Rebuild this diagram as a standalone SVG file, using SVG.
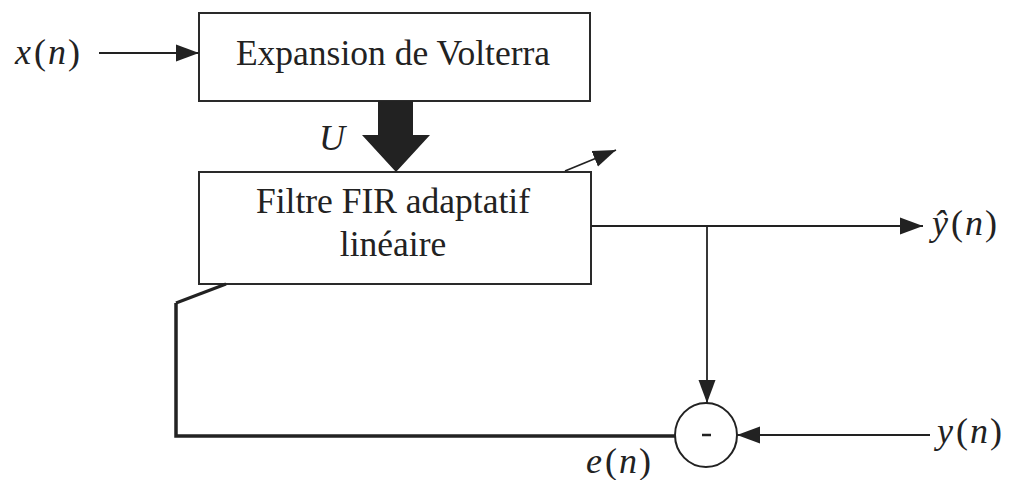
<svg xmlns="http://www.w3.org/2000/svg" width="1011" height="480" viewBox="0 0 1011 480">
  <style>
    .box { fill: #ffffff; stroke: #2a2a2a; stroke-width: 2; }
    .lbl { font-family: "Liberation Serif", "Times New Roman", serif; font-size: 35.5px; fill: #222; text-anchor: middle; }
    .math { font-family: "Liberation Serif", "Times New Roman", serif; font-size: 36px; fill: #222; }
    .it { font-style: italic; }
    .wire { fill: none; stroke: #222; stroke-width: 1.8; }
    .fb { fill: none; stroke: #222; stroke-width: 3.5; }
    .head { fill: #222; }
  </style>
  <defs>
    <marker id="arr" markerUnits="userSpaceOnUse" markerWidth="24" markerHeight="20" refX="23" refY="10" orient="auto">
      <path d="M0,1.5 L23,10 L0,18.5 Z" class="head"/>
    </marker>
  </defs>

  <rect width="1011" height="480" fill="#ffffff"/>

  <!-- input label -->
  <g id="label-x">
    <text class="math" x="15" y="64"><tspan class="it">x</tspan><tspan dx="3">(</tspan><tspan class="it" dx="2">n</tspan><tspan dx="2">)</tspan></text>
  </g>

  <!-- Volterra expansion block -->
  <g id="volterra">
    <rect class="box" x="199" y="13" width="391" height="88"/>
    <text class="lbl" x="393" y="65">Expansion de Volterra</text>
  </g>

  <!-- adaptive linear FIR filter block -->
  <g id="fir">
    <rect class="box" x="199" y="172" width="392" height="112"/>
    <text class="lbl" x="393" y="213">Filtre FIR adaptatif</text>
    <text class="lbl" x="393" y="256">linéaire</text>
  </g>

  <!-- subtraction node -->
  <g id="sum">
    <ellipse cx="706" cy="435" rx="31" ry="32" fill="#ffffff" stroke="#222" stroke-width="2"/>
    <line x1="702" y1="435" x2="711" y2="435" stroke="#222" stroke-width="2.5"/>
  </g>

  <!-- signal labels -->
  <g id="label-U">
    <text class="math it" x="319" y="150" font-size="38">U</text>
  </g>
  <g id="label-yhat">
    <text class="math" x="932" y="235"><tspan class="it">ŷ</tspan><tspan dx="3">(</tspan><tspan class="it" dx="2">n</tspan><tspan dx="2">)</tspan></text>
  </g>
  <g id="label-y">
    <text class="math" x="937" y="443"><tspan class="it">y</tspan><tspan dx="3">(</tspan><tspan class="it" dx="2">n</tspan><tspan dx="2">)</tspan></text>
  </g>
  <g id="label-e">
    <text class="math" x="586" y="473"><tspan class="it">e</tspan><tspan dx="3">(</tspan><tspan class="it" dx="2">n</tspan><tspan dx="2">)</tspan></text>
  </g>

  <!-- connectors -->
  <g id="connectors">
    <!-- x(n) into the expansion -->
    <line class="wire" x1="99" y1="53" x2="199" y2="53" marker-end="url(#arr)"/>
    <!-- vector U: wide block arrow -->
    <polygon class="head" points="378,101 413,101 413,135 430,135 396,172 362,135 378,135"/>
    <!-- adaptation indicator across the filter -->
    <line class="wire" x1="565" y1="171" x2="616" y2="150" stroke-width="2.6" marker-end="url(#arr)"/>
    <!-- filter output -->
    <line class="wire" x1="591" y1="226" x2="923" y2="226" marker-end="url(#arr)"/>
    <!-- branch down to the subtractor -->
    <line class="wire" x1="707" y1="226" x2="707" y2="403" marker-end="url(#arr)"/>
    <!-- desired signal into the subtractor -->
    <line class="wire" x1="930" y1="435" x2="737" y2="435" marker-end="url(#arr)"/>
    <!-- error feedback to the filter -->
    <polyline class="fb" points="675,436 176,436 176,303"/>
    <line x1="176" y1="303" x2="226" y2="284" stroke="#222" stroke-width="3"/>
  </g>
</svg>
